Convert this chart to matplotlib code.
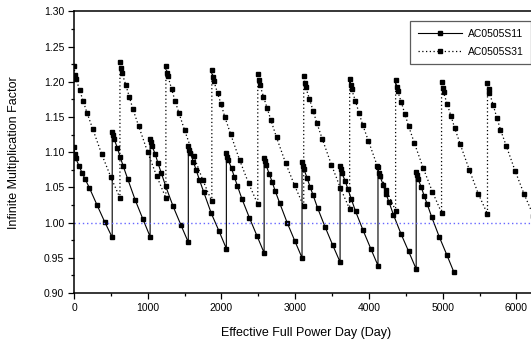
import matplotlib
matplotlib.use("Agg")
import matplotlib.pyplot as plt
from matplotlib.ticker import MultipleLocator

plt.rcParams['font.family'] = ['Liberation Sans', 'DejaVu Sans']

# AC0505S11 (solid) — effective full power days and k-inf
s11_x = [0, 10, 25, 70, 108, 150, 210, 312, 416, 518,
         518, 528, 543, 588, 626, 668, 728, 830, 934, 1032,
         1032, 1042, 1057, 1102, 1140, 1182, 1242, 1344, 1448, 1550,
         1550, 1560, 1575, 1620, 1658, 1700, 1760, 1862, 1966, 2066,
         2066, 2076, 2091, 2136, 2174, 2216, 2276, 2378, 2482, 2578,
         2578, 2588, 2603, 2648, 2686, 2728, 2788, 2890, 2994, 3092,
         3092, 3102, 3117, 3162, 3200, 3242, 3302, 3404, 3508, 3608,
         3608, 3618, 3633, 3678, 3716, 3758, 3818, 3920, 4024, 4122,
         4122, 4132, 4147, 4192, 4230, 4272, 4332, 4434, 4538, 4640,
         4640, 4650, 4665, 4710, 4748, 4790, 4850, 4952, 5056, 5150]
s11_y = [1.108, 1.097, 1.091, 1.080, 1.071, 1.062, 1.049, 1.025, 1.001, 0.979,
         1.129, 1.125, 1.119, 1.106, 1.093, 1.080, 1.062, 1.032, 1.005, 0.980,
         1.119, 1.114, 1.109, 1.097, 1.084, 1.071, 1.052, 1.023, 0.997, 0.972,
         1.109, 1.103, 1.099, 1.086, 1.074, 1.061, 1.043, 1.013, 0.988, 0.963,
         1.099, 1.093, 1.089, 1.077, 1.065, 1.052, 1.034, 1.007, 0.981, 0.957,
         1.092, 1.087, 1.082, 1.069, 1.058, 1.045, 1.028, 1.000, 0.974, 0.950,
         1.086, 1.080, 1.076, 1.063, 1.051, 1.039, 1.021, 0.994, 0.968, 0.944,
         1.080, 1.076, 1.070, 1.059, 1.047, 1.034, 1.016, 0.989, 0.963, 0.939,
         1.079, 1.070, 1.066, 1.054, 1.041, 1.029, 1.011, 0.984, 0.959, 0.934,
         1.072, 1.067, 1.062, 1.050, 1.038, 1.026, 1.008, 0.980, 0.954, 0.930]

# AC0505S31 (dotted)
s31_x = [0, 14, 27, 77, 126, 176, 254, 376, 498, 623,
         623, 637, 650, 700, 749, 799, 877, 999, 1121, 1246,
         1246, 1260, 1273, 1323, 1372, 1422, 1500, 1622, 1744, 1869,
         1869, 1883, 1896, 1946, 1995, 2045, 2123, 2245, 2367, 2492,
         2492, 2506, 2519, 2569, 2618, 2668, 2746, 2868, 2990, 3115,
         3115, 3129, 3142, 3192, 3241, 3291, 3369, 3491, 3613, 3738,
         3738, 3752, 3765, 3815, 3864, 3914, 3992, 4114, 4236, 4361,
         4361, 4375, 4388, 4438, 4487, 4537, 4615, 4737, 4859, 4984,
         4984, 4998, 5011, 5061, 5110, 5160, 5238, 5360, 5482, 5607,
         5607, 5621, 5634, 5684, 5733, 5783, 5861, 5983, 6105, 6230]
s31_y = [1.222, 1.210, 1.204, 1.188, 1.172, 1.156, 1.133, 1.097, 1.065, 1.035,
         1.228, 1.219, 1.213, 1.196, 1.179, 1.161, 1.137, 1.100, 1.066, 1.035,
         1.222, 1.213, 1.208, 1.190, 1.172, 1.156, 1.131, 1.095, 1.061, 1.030,
         1.216, 1.207, 1.201, 1.184, 1.168, 1.150, 1.126, 1.089, 1.056, 1.026,
         1.211, 1.202, 1.196, 1.179, 1.163, 1.146, 1.121, 1.085, 1.053, 1.023,
         1.208, 1.198, 1.192, 1.176, 1.159, 1.142, 1.118, 1.082, 1.049, 1.019,
         1.204, 1.195, 1.189, 1.173, 1.156, 1.139, 1.116, 1.080, 1.046, 1.017,
         1.202, 1.193, 1.187, 1.171, 1.154, 1.137, 1.113, 1.077, 1.044, 1.014,
         1.200, 1.191, 1.185, 1.168, 1.152, 1.135, 1.111, 1.075, 1.041, 1.012,
         1.198, 1.189, 1.184, 1.167, 1.149, 1.132, 1.109, 1.073, 1.040, 1.010]

series_names = ['AC0505S11', 'AC0505S31']
ref_k = 1.00

fig = plt.figure(figsize=(5.31, 3.42), dpi=100)
ax = fig.add_axes([74 / 531, 49 / 342, (538.6 - 74) / 531, (293 - 11.3) / 342])

ax.plot(s11_x, s11_y, color='black', linestyle='-', linewidth=0.8,
        marker='s', markersize=3.3, label=series_names[0])
ax.plot(s31_x, s31_y, color='black', linestyle=(0, (1, 2)), linewidth=0.9,
        marker='s', markersize=3.3, label=series_names[1])
ax.axhline(ref_k, color='#6666ff', linestyle=(0, (1, 2)), linewidth=1.0)

ax.set_xlim(0, 6300)
ax.set_ylim(0.90, 1.30)
ax.xaxis.set_major_locator(MultipleLocator(1000))
ax.xaxis.set_minor_locator(MultipleLocator(500))
ax.yaxis.set_major_locator(MultipleLocator(0.05))
ax.yaxis.set_minor_locator(MultipleLocator(0.025))
ax.yaxis.set_major_formatter(matplotlib.ticker.FormatStrFormatter('%.2f'))
ax.tick_params(which='major', direction='out', length=4.5, width=0.9, labelsize=7.5, pad=2.5)
ax.tick_params(which='minor', direction='out', length=2.5, width=0.9)
for sp in ax.spines.values():
    sp.set_linewidth(1.1)

ax.set_xlabel('Effective Full Power Day (Day)', fontsize=9, labelpad=10)
ax.set_ylabel('Infinite Multiplication Factor', fontsize=9, labelpad=17)

leg = ax.legend(loc='upper right', bbox_to_anchor=(530.7 / 531, (342 - 21.5) / 342),
                bbox_transform=fig.transFigure, fontsize=7.5, frameon=True,
                fancybox=False, edgecolor='#333333', handlelength=4.3,
                borderpad=0.7, labelspacing=0.75, handletextpad=0.5,
                borderaxespad=0)
leg.get_frame().set_linewidth(0.9)

fig.savefig('out.png', dpi=100)
